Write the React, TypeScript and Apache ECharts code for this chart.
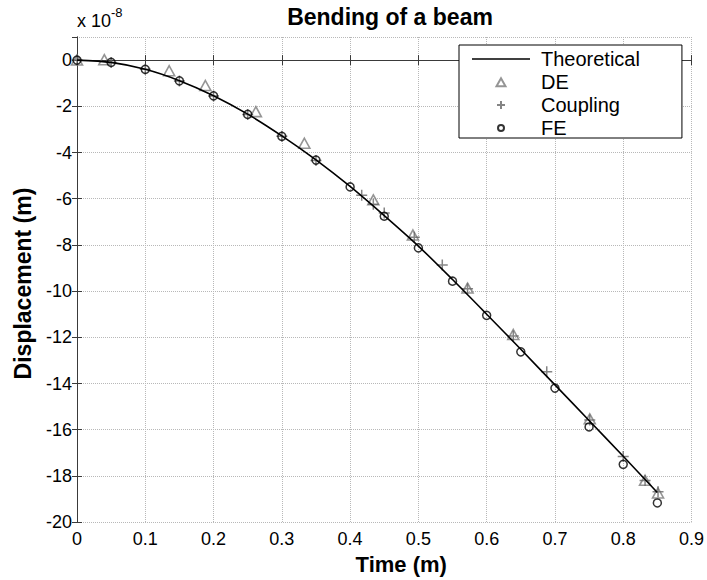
import React, { useEffect, useRef } from "react";
import * as echarts from "echarts";

const theoreticalX = [0, 0.05, 0.1, 0.15, 0.2, 0.25, 0.3, 0.35, 0.4, 0.45, 0.5, 0.55, 0.6, 0.65, 0.7, 0.75, 0.8, 0.85];
const theoreticalY = [0, -0.1, -0.4, -0.89, -1.54, -2.34, -3.28, -4.32, -5.47, -6.73, -8.05, -9.5, -11.0, -12.52, -14.06, -15.6, -17.15, -18.72];

const deX = [0, 0.04, 0.135, 0.188, 0.262, 0.333, 0.434, 0.492, 0.572, 0.639, 0.751, 0.832, 0.851];
const deY = [0, 0.02, -0.46, -1.1, -2.23, -3.6, -6.05, -7.57, -9.87, -11.88, -15.53, -18.19, -18.74];

const couplingX = [0, 0.05, 0.1, 0.15, 0.2, 0.25, 0.3, 0.35, 0.417, 0.434, 0.45, 0.494, 0.535, 0.572, 0.639, 0.688, 0.751, 0.8, 0.832, 0.851];
const couplingY = [0, -0.1, -0.4, -0.9, -1.55, -2.35, -3.3, -4.35, -5.85, -6.24, -6.62, -7.67, -8.87, -9.9, -11.94, -13.49, -15.58, -17.16, -18.2, -18.69];

const feX = [0, 0.05, 0.1, 0.15, 0.2, 0.25, 0.3, 0.35, 0.4, 0.45, 0.5, 0.55, 0.6, 0.65, 0.7, 0.75, 0.8, 0.85];
const feY = [0, -0.1, -0.4, -0.9, -1.55, -2.35, -3.3, -4.33, -5.49, -6.76, -8.13, -9.57, -11.05, -12.63, -14.2, -15.88, -17.5, -19.17];

const FONT = "Liberation Sans, Arial, Helvetica, sans-serif";

const zip = (xs: number[], ys: number[]) => xs.map((x, i) => [x, ys[i]]);

// legend icons: 58x12 boxes (corner moveTo points fix the bounding box)
const ICON_LINE = "path://M0,5.2H58V6.8H0Z";
const ICON_TRI = "path://M0,0M58,12M24.5,10.2L33.5,10.2L29,2.2Z";
const ICON_PLUS = "path://M0,0M58,12M25,6L33,6M29,2L29,10";
const ICON_CIRCLE = "path://M0,0M58,12M26,6A3,3 0 1,0 32,6A3,3 0 1,0 26,6Z";

export default function App() {
  const ref = useRef<HTMLDivElement>(null);
  useEffect(() => {
    if (!ref.current) return;
    const chart = echarts.init(ref.current, undefined, { renderer: "svg" });
    const axisLine = { show: true, lineStyle: { color: "#3a3a3a", width: 1 } };
    const axisTick = { show: true, inside: true, length: 5, lineStyle: { color: "#3a3a3a" } };
    const splitLine = { show: true, lineStyle: { color: "#b8b8b8", type: "dotted" as const, width: 1 } };
    chart.setOption({
      animation: false,
      backgroundColor: "#fff",
      title: {
        text: "Bending of a beam",
        left: 385,
        textAlign: "center",
        top: 0,
        textStyle: { fontFamily: FONT, fontWeight: "bold", fontSize: 23, color: "#000" },
      },
      grid: { left: 77, right: 14, top: 37, bottom: 56 },
      legend: {
        orient: "vertical",
        left: 459,
        top: 45,
        selectedMode: false,
        backgroundColor: "#fff",
        borderColor: "#000",
        borderWidth: 1,
        borderRadius: 0,
        padding: [4, 42, 0, 12],
        itemWidth: 58,
        itemHeight: 12,
        itemGap: 3,
        textStyle: { fontFamily: FONT, fontSize: 20, color: "#000", lineHeight: 20, padding: [0, 0, 0, 6] },
        data: [
          { name: "Theoretical", icon: ICON_LINE },
          { name: "DE", icon: ICON_TRI },
          { name: "Coupling", icon: ICON_PLUS },
          { name: "FE", icon: ICON_CIRCLE },
        ],
      },
      graphic: [
        {
          type: "text",
          left: 77,
          top: 12,
          style: { text: "x 10", fontFamily: FONT, fontSize: 18, fill: "#000" },
        },
        {
          type: "text",
          left: 111,
          top: 6,
          style: { text: "-8", fontFamily: FONT, fontSize: 13, fill: "#000" },
        },
      ],
      xAxis: [
        {
          type: "value",
          min: 0,
          max: 0.9,
          interval: 0.1,
          name: "Time (m)",
          nameLocation: "middle",
          nameGap: 30,
          nameTextStyle: { fontFamily: FONT, fontWeight: "bold", fontSize: 22, color: "#000", padding: [0, 0, 0, 34] },
          axisLine,
          axisTick,
          splitLine,
          axisLabel: { fontFamily: FONT, fontSize: 18, color: "#000", margin: 8, formatter: (v: number) => String(+v.toFixed(1)) },
        },
        {
          type: "value",
          position: "top",
          min: 0,
          max: 0.9,
          interval: 0.1,
          axisLine,
          axisTick,
          splitLine: { show: false },
          axisLabel: { show: false },
        },
      ],
      yAxis: [
        {
          type: "value",
          min: -20,
          max: 1,
          interval: 2,
          name: "Displacement (m)",
          nameLocation: "middle",
          nameGap: 43,
          nameTextStyle: { fontFamily: FONT, fontWeight: "bold", fontSize: 23, color: "#000", padding: [0, 8, 0, 0] },
          axisLine,
          axisTick,
          splitLine,
          axisLabel: { fontFamily: FONT, fontSize: 18, color: "#000", margin: 5, showMaxLabel: false },
        },
        {
          type: "value",
          position: "right",
          min: -20,
          max: 1,
          interval: 2,
          axisLine,
          axisTick,
          splitLine: { show: false },
          axisLabel: { show: false },
        },
      ],
      series: [
        {
          name: "Theoretical",
          type: "line",
          data: zip(theoreticalX, theoreticalY),
          symbol: "none",
          smooth: 0.3,
          lineStyle: { color: "#000", width: 1.6 },
          itemStyle: { color: "#000" },
          z: 3,
        },
        {
          name: "DE",
          type: "scatter",
          data: zip(deX, deY),
          symbol: "triangle",
          symbolSize: [11, 10],
          itemStyle: { color: "rgba(0,0,0,0)", borderColor: "#7a7a7a", borderWidth: 1.6 },
          z: 2,
        },
        {
          name: "Coupling",
          type: "scatter",
          data: zip(couplingX, couplingY),
          symbol: "path://M0,5L10,5M5,0L5,10",
          symbolSize: 11,
          itemStyle: { color: "rgba(0,0,0,0)", borderColor: "#666", borderWidth: 1.5 },
          z: 2,
        },
        {
          name: "FE",
          type: "scatter",
          data: zip(feX, feY),
          symbol: "circle",
          symbolSize: 8,
          itemStyle: { color: "rgba(0,0,0,0)", borderColor: "#000", borderWidth: 1.5 },
          z: 2,
        },
      ],
    });
    return () => chart.dispose();
  }, []);
  return <div ref={ref} style={{ width: 707, height: 580, position: "absolute", left: 0, top: 0 }} />;
}
